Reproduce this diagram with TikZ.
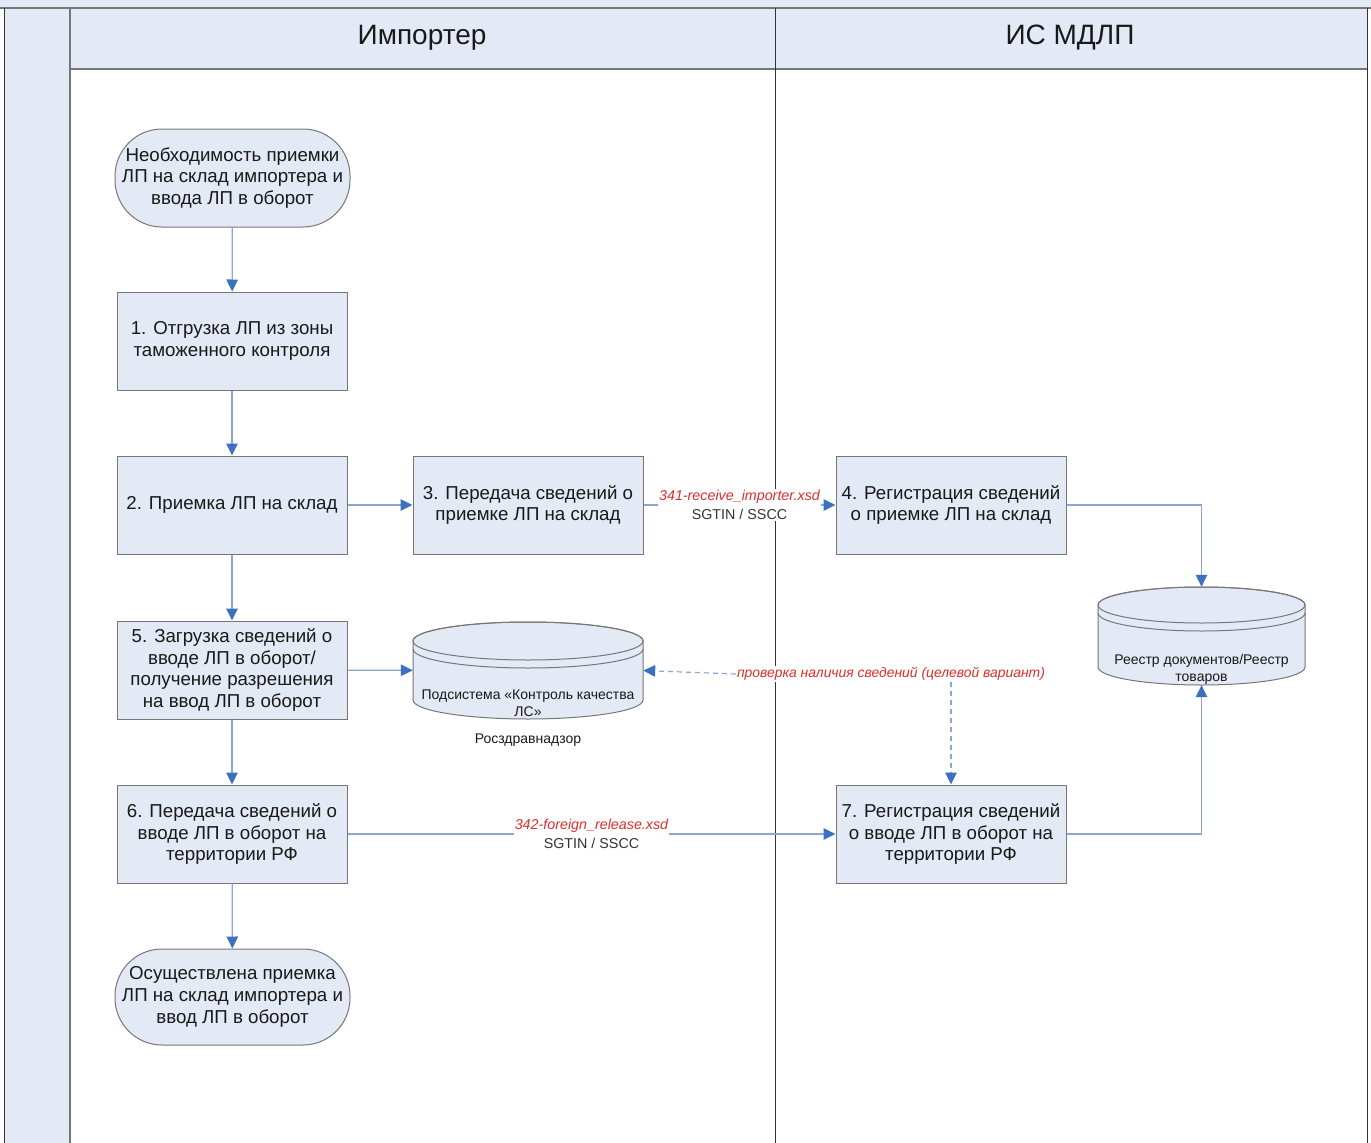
\documentclass[tikz,border=0pt]{standalone}
\usepackage{fontspec}
\setmainfont{Liberation Sans}
\usetikzlibrary{arrows.meta}

\definecolor{lanefill}{RGB}{228,234,245}
\definecolor{boxfill}{RGB}{227,233,245}
\definecolor{boxline}{RGB}{118,118,118}
\definecolor{flowline}{RGB}{140,165,210}
\definecolor{flowhead}{RGB}{62,112,192}
\definecolor{xsdred}{RGB}{222,45,45}
\definecolor{txt}{RGB}{25,25,25}

% database symbol: cx, top-ellipse centre y, bottom-ellipse centre y, x radius, y radius
\newcommand{\dbshape}[5]{%
  \filldraw[draw=boxline, fill=boxfill, line width=1pt]
    ({#1-#4},#2) -- ({#1-#4},#3)
    arc[start angle=180, end angle=360, x radius=#4pt, y radius=#5pt]
    -- ({#1+#4},#2)
    arc[start angle=0, end angle=180, x radius=#4pt, y radius=#5pt] -- cycle;
  \draw[boxline, line width=1pt] (#1,#2) ellipse[x radius=#4pt, y radius=#5pt];
  \draw[boxline, line width=1pt] ({#1-#4},{#2+8})
    arc[start angle=180, end angle=360, x radius=#4pt, y radius=#5pt];
}

\begin{document}
\begin{tikzpicture}[x=1pt, y=-1pt,
  font=\fontsize{18.7}{21.8}\selectfont,
  stepbox/.style={draw=boxline, fill=boxfill, line width=1pt,
    minimum width=230pt, minimum height=98pt, align=center, text=txt, inner sep=0pt},
  termbox/.style={stepbox, minimum width=235pt, rounded corners=47pt},
  dbbox/.style={minimum width=#1, inner sep=0pt},
  flow/.style={draw=flowline, line width=1.2pt,
    -{Triangle[length=12pt, width=11.5pt, color=flowhead]}},
  dflow/.style={flow, dash pattern=on 5pt off 4pt},
  msg/.style={fill=white, inner sep=1pt, align=center, text=black!80,
    font=\fontsize{14.3}{19.5}\selectfont},
  small/.style={align=center, text=txt, font=\fontsize{14}{16.8}\selectfont},
  lanehead/.style={text=txt, font=\fontsize{28}{32}\selectfont}
]
\useasboundingbox (0,0) rectangle (1371,1143);

% pool and lanes
\fill[lanefill] (0,0) rectangle (1371,8);
\fill[lanefill] (4,8) rectangle (70,1143);
\fill[lanefill] (70,8) rectangle (1367,69);
\draw[boxline, line width=1.5pt] (0,8) -- (1371,8);
\draw[boxline, line width=1.5pt] (70,69) -- (1367,69);
\draw[boxline, line width=1.2pt] (70,8) -- (70,1143);
\draw[black!80, line width=1pt] (4,8) -- (4,1143);
\draw[black!80, line width=1pt] (775,8) -- (775,1143);
\draw[black!80, line width=1pt] (1367,8) -- (1367,1143);
\node[lanehead] (laneA) at (422,38) {Импортер};
\node[lanehead] (laneB) at (1070,38) {ИС МДЛП};

% process steps
\node[termbox] (start) at (232.5,178) {Необходимость приемки\\ЛП на склад импортера и\\ввода ЛП в оборот};
\node[stepbox] (b1) at (232,341) {1. Отгрузка ЛП из зоны\\таможенного контроля};
\node[stepbox] (b2) at (232,505) {2. Приемка ЛП на склад};
\node[stepbox] (b3) at (528,505) {3. Передача сведений о\\приемке ЛП на склад};
\node[stepbox] (b4) at (951,505) {4. Регистрация сведений\\о приемке ЛП на склад};
\node[stepbox] (b5) at (232,670) {5. Загрузка сведений о\\вводе ЛП в оборот/\\получение разрешения\\на ввод ЛП в оборот};
\node[stepbox] (b6) at (232,834) {6. Передача сведений о\\вводе ЛП в оборот на\\территории РФ};
\node[stepbox] (b7) at (951,834) {7. Регистрация сведений\\о вводе ЛП в оборот на\\территории РФ};
\node[termbox, minimum height=96pt] (finish) at (232.5,997) {Осуществлена приемка\\ЛП на склад импортера и\\ввод ЛП в оборот};

% databases
\dbshape{528}{641}{700}{115}{19}
\node[dbbox=230pt, minimum height=97pt] (kk) at (528,670.5) {};
\node[small] (kktext) at (528,703.5) {Подсистема «Контроль качества\\ЛС»};
\node[small] (rzn) at (528,740) {Росздравнадзор};

\dbshape{1201.5}{605}{667}{103.5}{18}
\node[dbbox=207pt, minimum height=98pt] (reg) at (1201.5,636) {};
\node[small] (regtext) at (1201.5,669) {Реестр документов/Реестр\\товаров};

% connectors
\draw[flow] (start) -- (b1);
\draw[flow] (b1) -- (b2);
\draw[flow] (b2) -- (b5);
\draw[flow] (b5) -- (b6);
\draw[flow] (b6) -- (finish);
\draw[flow] (b2) -- (b3);
\draw[flow] (b3) -- node[msg] {\textcolor{xsdred}{\itshape 341-receive\_importer.xsd}\\SGTIN / SSCC} (b4);
\draw[flow] (b6) -- node[msg] {\textcolor{xsdred}{\itshape 342-foreign\_release.xsd}\\SGTIN / SSCC} (b7);
\draw[flow] (b5) -- (kk);
\draw[flow] (b4.east) -| (reg.north);
\draw[flow] (b7.east) -| (reg.south);

\node[msg, text=xsdred, font=\fontsize{13.9}{16}\itshape] (chk) at (891,674) {проверка наличия сведений (целевой вариант)};
\draw[dflow] (chk.west) -- (kk.east);
\draw[dflow] (chk.south -| b7.north) -- (b7.north);
\end{tikzpicture}
\end{document}
